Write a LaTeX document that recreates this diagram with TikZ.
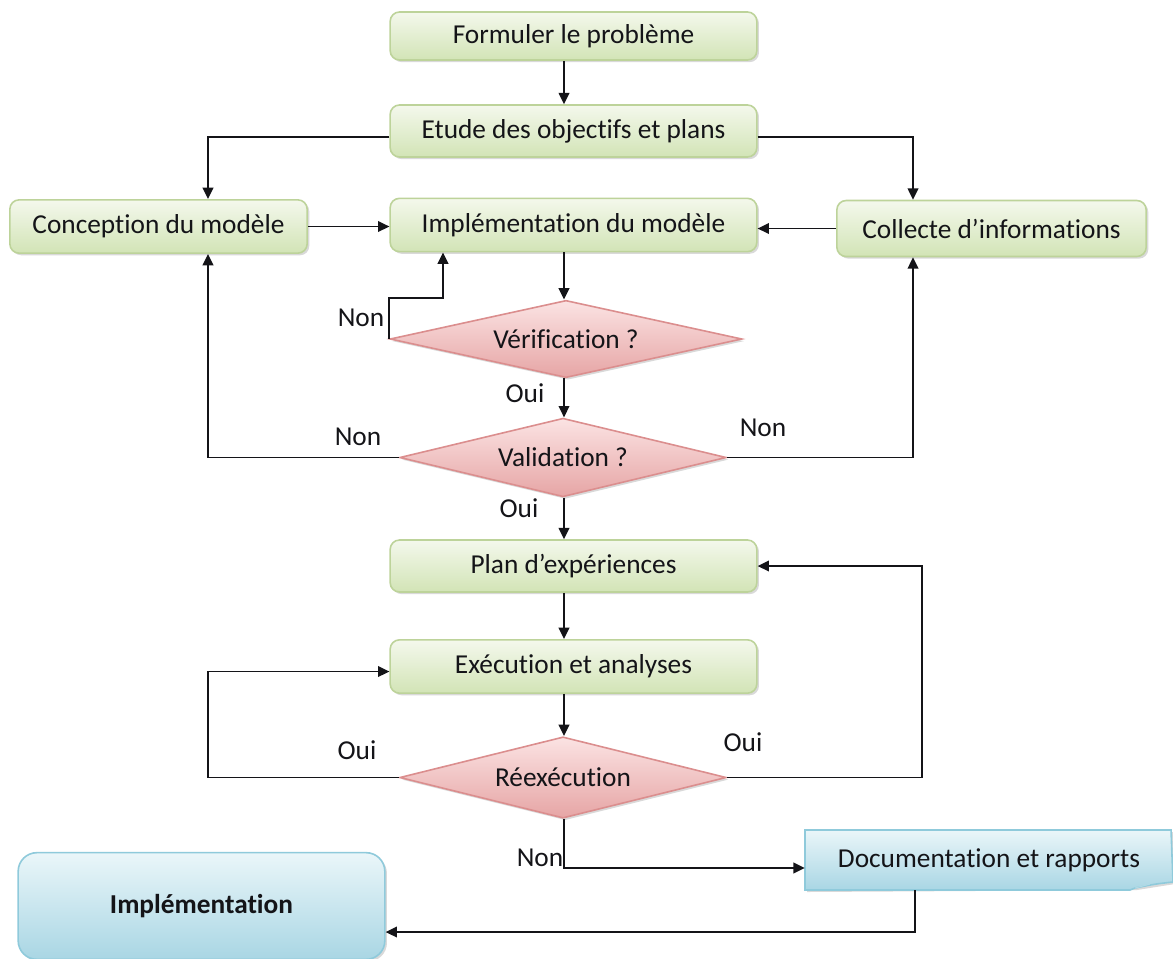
\documentclass[tikz,border=0pt]{standalone}
\usepackage{fontspec}
\setmainfont{Carlito}[Ligatures=NoCommon]
\usetikzlibrary{shapes.geometric,shadows,arrows.meta,calc}

\definecolor{gborder}{HTML}{BDD39A}
\definecolor{gtop}{HTML}{F4F8EC}
\definecolor{gbot}{HTML}{D2E4B6}
\definecolor{pborder}{HTML}{DB8E8E}
\definecolor{ptop}{HTML}{FBE3E3}
\definecolor{pbot}{HTML}{E6A5A5}
\definecolor{bborder}{HTML}{8FCADB}
\definecolor{btop}{HTML}{EAF6F9}
\definecolor{bbot}{HTML}{A9D6E4}
\definecolor{ink}{HTML}{141418}

\tikzset{
  shade/.style={drop shadow={shadow xshift=1.6pt,shadow yshift=-1.6pt,opacity=0.25,fill=black!60}},
  greenbox/.style={rectangle,rounded corners=7pt,draw=gborder,line width=1.2pt,
    top color=gtop,bottom color=gbot,shade,inner sep=0pt,align=center,text=ink},
  decision/.style={diamond,draw=pborder,line width=1.2pt,top color=ptop,bottom color=pbot,
    shade,inner sep=0pt,aspect=4.5,text=ink},
  bluebox/.style={rectangle,rounded corners=14pt,draw=bborder,line width=1.2pt,
    top color=btop,bottom color=bbot,shade,inner sep=0pt,align=center,text=ink},
  arr/.style={-{Triangle[length=8.5pt,width=8pt]},line width=1.25pt,draw=ink},
  lbl/.style={text=ink,inner sep=0pt},
}

\begin{document}
\begin{tikzpicture}[x=0.75pt,y=-0.75pt,font=\fontsize{20.5}{24}\selectfont]
\useasboundingbox (0,0) rectangle (1173,958);

% process boxes
\node[greenbox,minimum width=275pt,minimum height=36pt] (form) at (573.5,36) {Formuler le problème};
\node[greenbox,minimum width=275pt,minimum height=39pt] (etude) at (573.5,131) {Etude des objectifs et plans};
\node[greenbox,minimum width=223pt,minimum height=40pt] (conc) at (158.5,226.5) {Conception du modèle};
\node[greenbox,minimum width=275pt,minimum height=40pt] (impl) at (573.5,225) {Implémentation du modèle};
\node[greenbox,minimum width=232pt,minimum height=42pt] (coll) at (991.5,228.5) {Collecte d’informations};
\node[greenbox,minimum width=275pt,minimum height=39pt] (plan) at (573.5,566) {Plan d’expériences};
\node[greenbox,minimum width=275pt,minimum height=40pt] (exec) at (573.5,666.5) {Exécution et analyses};

% decisions
\node[decision,minimum width=264pt,minimum height=58pt] (verif) at (566,339) {Vérification ?};
\node[decision,minimum width=245pt,minimum height=59pt] (valid) at (563,457.5) {Validation ?};
\node[decision,minimum width=245pt,minimum height=61pt] (reex) at (563,777.5) {Réexécution};

% document shape
\coordinate (d1) at (805,830);
\coordinate (d2) at (1171,830);
\coordinate (d3) at (1173,882);
\coordinate (d4) at (1135,888);
\coordinate (d5) at (805,890);
\fill[black!60,opacity=0.25] ($(d1)+(2,2)$) -- ($(d2)+(2,2)$) -- ($(d3)+(2,2)$) -- ($(d4)+(2,2)$) -- ($(d5)+(2,2)$) -- cycle;
\path[top color=btop,bottom color=bbot,draw=bborder,line width=1.2pt]
  (d1) -- (d2) -- (d3) .. controls (1155,884) .. (d4) -- (1130,890) -- (d5) -- cycle;
\draw[bborder!70!white,line width=0.8pt] (1135,888) -- (1150,884);
\node[lbl,minimum width=276pt,minimum height=45pt] (doc) at (989,860) {Documentation et rapports};

% final box
\node[bluebox,minimum width=275pt,minimum height=80pt,font=\fontsize{20.5}{24}\selectfont\bfseries] (fin) at (201.5,906) {Implémentation};

% routing columns
\coordinate (lx) at (208,0);
\coordinate (rx) at (913,0);
\coordinate (rx2) at (922,0);
\coordinate (cx) at (564,0);
\coordinate (vk) at (443,298);
\coordinate (dk) at (915,932);

% connectors
\draw[arr] (form.south -| cx) -- (etude.north -| cx);
\draw[arr] ($(etude.west)+(0,6)$) -| (conc.north -| lx);
\draw[arr] ($(etude.east)+(0,6)$) -| (coll.north -| rx);
\draw[arr] (conc.east) -- (conc.east -| impl.west);
\draw[arr] (coll.west) -- (coll.west -| impl.east);
\draw[arr] (impl.south -| cx) -- (verif.north -| cx);
\draw[arr] (verif.west) |- (vk) -- (vk |- impl.south);
\draw[arr] (verif.south -| cx) -- (valid.north -| cx);
\draw[arr] (valid.west) -| (conc.south -| lx);
\draw[arr] (valid.east) -| (coll.south -| rx);
\draw[arr] (valid.south -| cx) -- (plan.north -| cx);
\draw[arr] (plan.south -| cx) -- (exec.north -| cx);
\draw[arr] (exec.south -| cx) -- (reex.north -| cx);
\draw[arr] (reex.west) -| ($(exec.west -| lx)+(0,5)$) -- ($(exec.west)+(0,5)$);
\draw[arr] (reex.east) -| (plan.east -| rx2) -- (plan.east);
\draw[arr] (reex.south -| cx) |- ($(doc.west)+(0,8)$);
\draw[arr] (doc.south -| dk) |- (dk -| fin.east);

% branch labels
\node[lbl] (n1) at (361,318) {Non};
\node[lbl] (o1) at (525,393) {Oui};
\node[lbl] (n2) at (358,437) {Non};
\node[lbl] (n3) at (763,428) {Non};
\node[lbl] (o2) at (519,508) {Oui};
\node[lbl] (o3) at (357,750) {Oui};
\node[lbl] (o4) at (743,742) {Oui};
\node[lbl] (n4) at (540,858) {Non};
\end{tikzpicture}
\end{document}
